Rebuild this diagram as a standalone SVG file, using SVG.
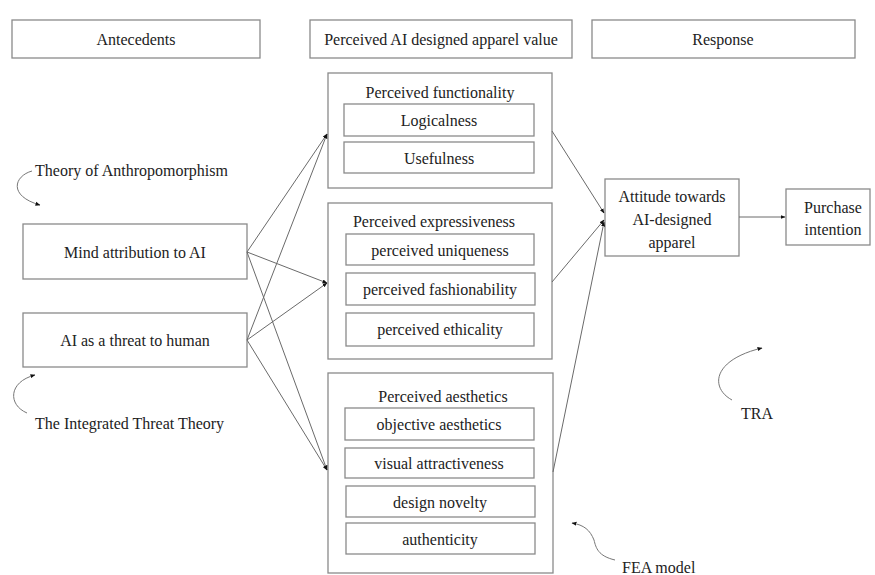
<svg xmlns="http://www.w3.org/2000/svg" width="875" height="575" viewBox="0 0 875 575">
<style>
.box{fill:#fff;stroke:#8a8a8a;stroke-width:1.3}
.t{font-family:"Liberation Serif","Times New Roman",serif;font-size:16px;fill:#222;text-anchor:middle;dominant-baseline:central}
.tl{font-family:"Liberation Serif","Times New Roman",serif;font-size:16px;fill:#222;dominant-baseline:central}
.ln{fill:none;stroke:#6a6a6a;stroke-width:1}
.cv{fill:none;stroke:#777;stroke-width:1}
</style>
<defs>
<marker id="ah" viewBox="0 0 10 10" refX="9" refY="5" markerWidth="5" markerHeight="5" orient="auto" markerUnits="userSpaceOnUse">
<path d="M0,1 L10,5 L0,9 z" fill="#111"/>
</marker>
</defs>
<rect width="875" height="575" fill="#fff"/>
<g id="hdr-antecedents"><rect class="box" x="12" y="20" width="248" height="38"/><text class="t" x="136" y="39">Antecedents</text></g>
<g id="hdr-value"><rect class="box" x="310" y="20" width="262" height="38"/><text class="t" x="441" y="39">Perceived AI designed apparel value</text></g>
<g id="hdr-response"><rect class="box" x="592" y="20" width="263" height="38"/><text class="t" x="723" y="39">Response</text></g>

<g id="theory-anthro"><text class="tl" x="35" y="170">Theory of Anthropomorphism</text><path class="cv" d="M32,171 C14,176 8,196 40,205" marker-end="url(#ah)"/></g>
<g id="theory-threat"><text class="tl" x="35" y="423">The Integrated Threat Theory</text><path class="cv" d="M27,413 C8,405 8,382 35,375" marker-end="url(#ah)"/></g>

<g id="mind"><rect class="box" x="23" y="224" width="224" height="55"/><text class="t" x="135" y="252">Mind attribution to AI</text></g>
<g id="threat"><rect class="box" x="23" y="313" width="224" height="54"/><text class="t" x="135" y="340">AI as a threat to human</text></g>

<g id="functionality"><rect class="box" x="328" y="73" width="224" height="115"/><text class="t" x="440" y="92">Perceived functionality</text>
<rect class="box" x="344" y="104" width="190" height="32"/><text class="t" x="439" y="120">Logicalness</text>
<rect class="box" x="344" y="142" width="190" height="31"/><text class="t" x="439" y="158">Usefulness</text></g>

<g id="expressiveness"><rect class="box" x="328" y="203" width="224" height="156"/><text class="t" x="434" y="221">Perceived expressiveness</text>
<rect class="box" x="346" y="234" width="188" height="31"/><text class="t" x="440" y="250">perceived uniqueness</text>
<rect class="box" x="346" y="273" width="189" height="32"/><text class="t" x="440" y="289">perceived fashionability</text>
<rect class="box" x="346" y="313" width="188" height="33"/><text class="t" x="440" y="329">perceived ethicality</text></g>

<g id="aesthetics"><rect class="box" x="328" y="373" width="225" height="200"/><text class="t" x="443" y="396">Perceived aesthetics</text>
<rect class="box" x="345" y="408" width="189" height="32"/><text class="t" x="439" y="424">objective aesthetics</text>
<rect class="box" x="345" y="448" width="189" height="30"/><text class="t" x="439" y="463">visual attractiveness</text>
<rect class="box" x="346" y="486" width="189" height="31"/><text class="t" x="440" y="502">design novelty</text>
<rect class="box" x="346" y="523" width="189" height="31"/><text class="t" x="440" y="539">authenticity</text></g>

<g id="attitude"><rect class="box" x="605" y="179" width="134" height="77"/><text class="t" x="672" y="196">Attitude towards</text><text class="t" x="672" y="219">AI-designed</text><text class="t" x="672" y="242">apparel</text></g>
<g id="purchase"><rect class="box" x="786" y="189" width="84" height="56"/><text class="t" x="833" y="207">Purchase</text><text class="t" x="833" y="229">intention</text></g>

<g id="tra"><text class="t" x="757" y="413">TRA</text><path class="cv" d="M732,400 C710,388 712,360 762,348" marker-end="url(#ah)"/></g>
<g id="fea"><text class="tl" x="622" y="567">FEA model</text><path class="cv" d="M615,560 C598,556 596,548 594,540 C590,530 584,525 572,523" marker-end="url(#ah)"/></g>

<g id="connectors">
<line class="ln" x1="247" y1="252" x2="327" y2="134" marker-end="url(#ah)"/>
<line class="ln" x1="247" y1="252" x2="327" y2="283" marker-end="url(#ah)"/>
<line class="ln" x1="247" y1="252" x2="327" y2="470" marker-end="url(#ah)"/>
<line class="ln" x1="247" y1="340" x2="327" y2="134" marker-end="url(#ah)"/>
<line class="ln" x1="247" y1="340" x2="327" y2="283" marker-end="url(#ah)"/>
<line class="ln" x1="247" y1="340" x2="327" y2="470" marker-end="url(#ah)"/>
<line class="ln" x1="552" y1="131" x2="604" y2="213" marker-end="url(#ah)"/>
<line class="ln" x1="552" y1="282" x2="604" y2="220" marker-end="url(#ah)"/>
<line class="ln" x1="553" y1="472" x2="604" y2="222" marker-end="url(#ah)"/>
<line class="ln" x1="739" y1="217" x2="785" y2="217" marker-end="url(#ah)"/>
</g>
</svg>
